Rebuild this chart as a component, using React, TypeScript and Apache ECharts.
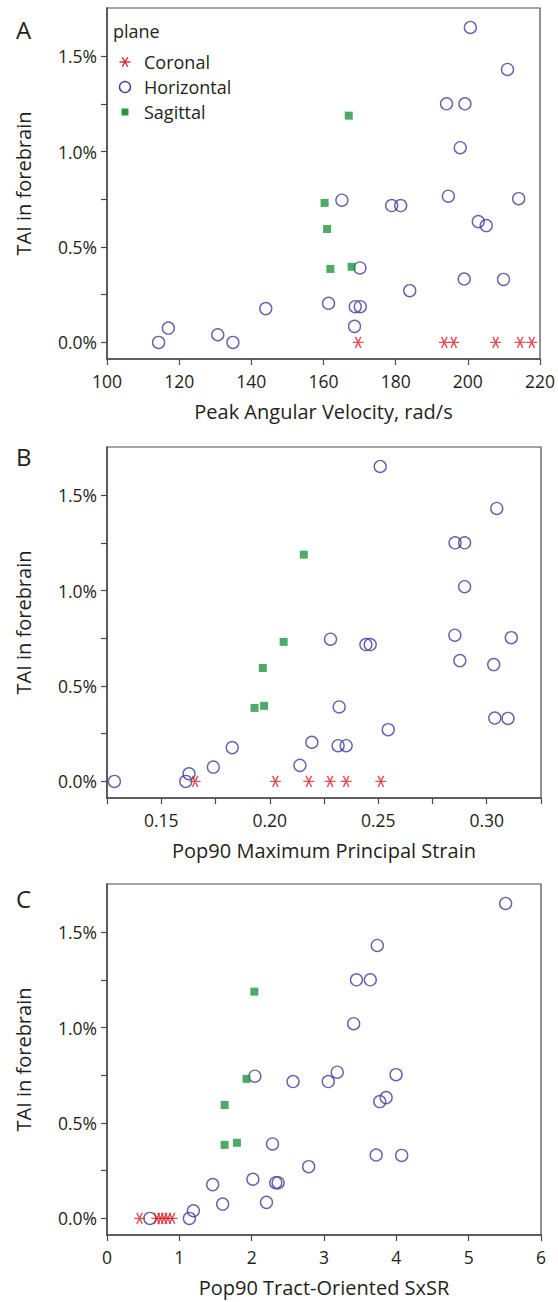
import { useEffect, useRef } from "react";
import * as echarts from "echarts";

// ---------- data (TAI in forebrain, %) ----------
const horizontalTAI = [1.65, 1.43, 1.25, 1.25, 1.02, 0.745, 0.717, 0.717, 0.766, 0.753, 0.633, 0.612, 0.39, 0.332, 0.33, 0.271, 0.177, 0.205, 0.187, 0.187, 0.084, 0.075, 0.0, 0.04, 0.0];
const horizontalVelocity = [200.7, 211.0, 194.1, 199.2, 197.9, 165.1, 178.9, 181.4, 194.6, 214.1, 202.9, 205.1, 170.1, 199.0, 209.9, 183.9, 144.0, 161.4, 168.8, 170.2, 168.6, 117.0, 114.3, 130.7, 134.9];
const horizontalStrain = [0.2509, 0.3046, 0.2854, 0.2898, 0.2898, 0.228, 0.2443, 0.2463, 0.2853, 0.3113, 0.2876, 0.3032, 0.232, 0.3037, 0.3098, 0.2546, 0.1827, 0.2194, 0.2315, 0.2352, 0.2139, 0.174, 0.1284, 0.1628, 0.1613];
const horizontalSxSR = [5.511, 3.737, 3.449, 3.64, 3.41, 2.044, 2.572, 3.059, 3.183, 3.996, 3.859, 3.771, 2.288, 3.721, 4.074, 2.788, 1.461, 2.017, 2.333, 2.366, 2.205, 1.599, 0.593, 1.194, 1.139];

const sagittalTAI = [1.188, 0.731, 0.594, 0.385, 0.396];
const sagittalVelocity = [167.0, 160.3, 161.0, 161.9, 167.8];
const sagittalStrain = [0.2157, 0.2064, 0.1968, 0.193, 0.1974];
const sagittalSxSR = [2.037, 1.929, 1.626, 1.626, 1.796];

const coronalTAI = [0, 0, 0, 0, 0, 0];
const coronalVelocity = [169.6, 193.5, 196.1, 207.7, 214.5, 217.7];
const coronalStrain = [0.1656, 0.2026, 0.218, 0.2278, 0.2352, 0.2512];
const coronalSxSR = [0.45, 0.69, 0.74, 0.79, 0.84, 0.9];

const planes = ["Coronal", "Horizontal", "Sagittal"];
const legendTitle = "plane";
const panelLetters = ["A", "B", "C"];
const xAxisNames = ["Peak Angular Velocity, rad/s", "Pop90 Maximum Principal Strain", "Pop90 Tract-Oriented SxSR"];
const yAxisName = "TAI in forebrain";
const yLabelValues = [0, 0.5, 1.0, 1.5];
const yTickValues = [0, 0.25, 0.5, 0.75, 1.0, 1.25, 1.5];
const strainLabelValues = [0.15, 0.2, 0.25, 0.3];
const strainTickValues = [0.125, 0.15, 0.175, 0.2, 0.225, 0.25, 0.275, 0.3, 0.325];

// ---------- styling ----------
const FONT = "Open Sans";
const AXIS = "#4a4a4a";
const TEXT = "#231f20";
const RED = "#d9262a";
const NAVY = "#3d3d99";
const GREEN = "#22963f";
const ASTERISK = "path://M-1 0 L1 0 M-0.5 -0.866 L0.5 0.866 M-0.5 0.866 L0.5 -0.866";

const gridTops = [8, 447, 884];
const GRID_H = 351;

const zip = (xs: number[], ys: number[]) => xs.map((x, i) => [x, ys[i]]);

function asteriskLines(cx: number, cy: number, r: number) {
  const angles = [0, 60, 120];
  return angles.map((a) => {
    const rad = (a * Math.PI) / 180;
    const dx = Math.cos(rad) * r;
    const dy = Math.sin(rad) * r;
    return {
      type: "line",
      shape: { x1: cx - dx, y1: cy - dy, x2: cx + dx, y2: cy + dy },
      style: { stroke: RED, lineWidth: 1.4 },
    };
  });
}

function buildOption() {
  const grids = gridTops.map((top) => ({
    left: 107,
    top,
    width: 434,
    height: GRID_H,
    show: true,
    borderColor: AXIS,
    borderWidth: 1.2,
    backgroundColor: "transparent",
  }));

  const baseX = {
    type: "value",
    nameLocation: "middle",
    nameGap: 42,
    nameTextStyle: { fontFamily: FONT, fontSize: 20, color: TEXT },
    axisLine: { show: true, onZero: false, lineStyle: { color: AXIS, width: 1.5 } },
    axisTick: { show: true, inside: false, length: 6, lineStyle: { color: AXIS, width: 1.2 } },
    axisLabel: { margin: 13, fontFamily: FONT, fontSize: 17.5, color: TEXT },
    splitLine: { show: false },
  };

  const xAxes = [
    { ...baseX, gridIndex: 0, min: 100, max: 220, interval: 20, name: xAxisNames[0] },
    {
      ...baseX,
      gridIndex: 1,
      min: 0.125,
      max: 0.325,
      interval: 0.025,
      name: xAxisNames[1],
      axisTick: { ...baseX.axisTick, customValues: strainTickValues },
      axisLabel: { ...baseX.axisLabel, customValues: strainLabelValues, formatter: (v: number) => v.toFixed(2) },
    },
    { ...baseX, gridIndex: 2, min: 0, max: 6, interval: 1, name: xAxisNames[2] },
  ];

  const yAxes = [0, 1, 2].map((i) => ({
    type: "value",
    gridIndex: i,
    min: -0.087,
    max: 1.752,
    name: yAxisName,
    nameLocation: "middle",
    nameGap: 74,
    nameTextStyle: { fontFamily: FONT, fontSize: 20, color: TEXT },
    axisLine: { show: true, onZero: false, lineStyle: { color: AXIS, width: 1.5 } },
    axisTick: { show: true, inside: false, length: 6, customValues: yTickValues, lineStyle: { color: AXIS, width: 1.2 } },
    axisLabel: {
      margin: 10,
      fontFamily: FONT,
      fontSize: 17.5,
      color: TEXT,
      customValues: yLabelValues,
      formatter: (v: number) => v.toFixed(1) + "%",
    },
    splitLine: { show: false },
  }));

  const xSets = [
    [coronalVelocity, horizontalVelocity, sagittalVelocity],
    [coronalStrain, horizontalStrain, sagittalStrain],
    [coronalSxSR, horizontalSxSR, sagittalSxSR],
  ];

  const series: any[] = [];
  xSets.forEach((set, i) => {
    series.push({
      type: "scatter",
      name: planes[1],
      xAxisIndex: i,
      yAxisIndex: i,
      symbol: "circle",
      symbolSize: 12,
      itemStyle: { color: "rgba(255,255,255,0)", borderColor: NAVY, borderWidth: 1.4 },
      data: zip(set[1], horizontalTAI),
      z: 2,
    });
    series.push({
      type: "scatter",
      name: planes[2],
      xAxisIndex: i,
      yAxisIndex: i,
      symbol: "rect",
      symbolSize: 8,
      itemStyle: { color: GREEN },
      data: zip(set[2], sagittalTAI),
      z: 3,
    });
    series.push({
      type: "scatter",
      name: planes[0],
      xAxisIndex: i,
      yAxisIndex: i,
      symbol: ASTERISK,
      symbolSize: 11,
      itemStyle: { color: RED, borderColor: RED, borderWidth: 1.4 },
      data: zip(set[0], coronalTAI),
      z: 4,
    });
  });

  const letterY = [29, 456, 898];
  const graphic: any[] = panelLetters.map((t, i) => ({
    type: "text",
    x: 16,
    y: letterY[i],
    style: { text: t, fontFamily: FONT, fontSize: 24, fill: TEXT, verticalAlign: "middle", align: "left" },
  }));

  // legend (drawn as graphic so each icon keeps its own size)
  const legendRows = [62, 87, 112];
  const iconX = 125;
  const textX = 144;
  graphic.push({
    type: "text",
    x: 113,
    y: 31,
    style: { text: legendTitle, fontFamily: FONT, fontSize: 18, fill: TEXT, verticalAlign: "middle", align: "left" },
  });
  graphic.push(...asteriskLines(iconX, legendRows[0], 5.5));
  graphic.push({
    type: "circle",
    shape: { cx: iconX, cy: legendRows[1], r: 5.5 },
    style: { fill: "none", stroke: NAVY, lineWidth: 1.4 },
  });
  graphic.push({
    type: "rect",
    shape: { x: iconX - 3.5, y: legendRows[2] - 3.5, width: 7, height: 7 },
    style: { fill: GREEN },
  });
  planes.forEach((p, i) => {
    graphic.push({
      type: "text",
      x: textX,
      y: legendRows[i],
      style: { text: p, fontFamily: FONT, fontSize: 18, fill: TEXT, verticalAlign: "middle", align: "left" },
    });
  });

  return {
    animation: false,
    backgroundColor: "#ffffff",
    grid: grids,
    xAxis: xAxes,
    yAxis: yAxes,
    graphic,
    series,
  };
}

export default function App() {
  const ref = useRef<HTMLDivElement>(null);
  useEffect(() => {
    document.body.style.margin = "0";
    document.body.style.overflow = "hidden";
    const chart = echarts.init(ref.current!, undefined, { renderer: "svg" });
    chart.setOption(buildOption() as any);
    return () => chart.dispose();
  }, []);
  return <div ref={ref} style={{ width: 558, height: 1302 }} />;
}
